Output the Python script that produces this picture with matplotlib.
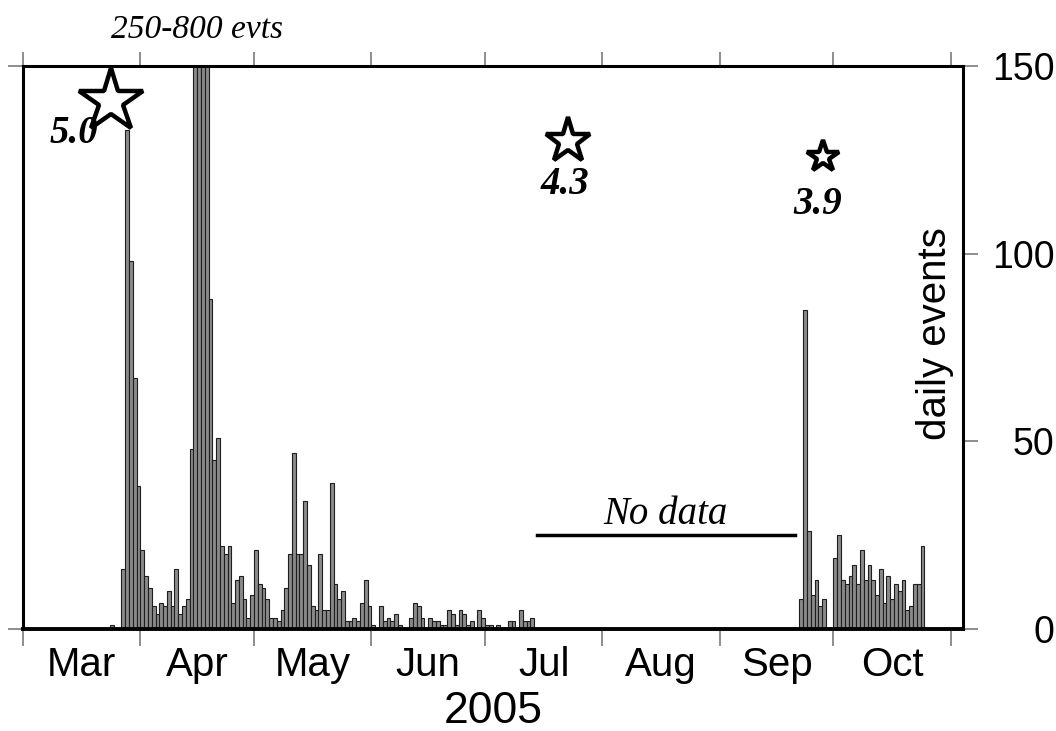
import matplotlib
matplotlib.use("Agg")
import matplotlib.pyplot as plt

plt.rcParams['font.family'] = ['Liberation Sans', 'DejaVu Sans']

# ---------------- data (days counted from 1 March 2005) ----------------
month_starts = [0, 31, 61, 92, 122, 153, 184, 214, 245]
month_names = ['Mar', 'Apr', 'May', 'Jun', 'Jul', 'Aug', 'Sep', 'Oct']

early_day = [23]
early_count = [1]

spring_start = 26
spring_counts = [16, 133, 98, 67, 38, 21, 14, 11, 6, 4, 7, 6, 10, 6, 16, 4, 6, 8,
                 48, 250, 800, 600, 300, 88, 45, 51, 22, 20, 22, 7, 13, 14, 8, 3,
                 9, 21, 12, 11, 8, 3, 3, 2, 5, 11, 20, 47, 20, 20, 34, 17, 6, 5,
                 20, 5, 5, 39, 12, 8, 10, 2, 2, 3, 2, 7, 13, 6, 1, 0, 6, 2, 3, 2,
                 4, 1, 0, 0, 3, 7, 6, 3, 0, 3, 2, 2, 1, 1, 5, 4, 1, 5, 4, 1, 2, 0,
                 5, 3, 1, 1, 0, 1, 0, 0, 2, 2, 0, 5, 2, 2, 3]

autumn_start = 205
autumn_counts = [8, 85, 26, 9, 13, 6, 8, 0, 0, 19, 25, 13, 12, 14, 17, 12, 21, 13,
                 17, 13, 9, 16, 7, 14, 8, 12, 10, 13, 5, 6, 12, 12, 22]

quake_day = [23.2, 143.9, 211.2]
quake_level = [140.7, 130.0, 125.8]
quake_mag = ['5.0', '4.3', '3.9']
quake_label_day = [13.5, 143.1, 209.9]
quake_label_level = [132.0, 118.3, 113.0]
quake_star_size = [48, 34, 24]

gap_span = [135.7, 203.8]
gap_level = 25

# ---------------- figure ----------------
W, H = 1056, 731
fig = plt.figure(figsize=(W / 100, H / 100), dpi=100)
ax = fig.add_axes([23 / W, (H - 629) / H, 940 / W, 563 / H])

bar_kw = dict(width=1, align='edge', color='#8a8a8a', edgecolor='#1e1e1e',
              linewidth=0.8, zorder=2)
ax.bar(early_day, early_count, **bar_kw)
ax.bar([spring_start + i for i in range(len(spring_counts))], spring_counts, **bar_kw)
ax.bar([autumn_start + i for i in range(len(autumn_counts))], autumn_counts, **bar_kw)

ax.set_xlim(0, 248.2)
ax.set_ylim(0, 150)

for s in ax.spines.values():
    s.set_linewidth(2.2)
    s.set_color('black')
    s.set_zorder(4)
ax.spines['bottom'].set_linewidth(2.8)

# x ticks: month boundaries (major) and centred month names (minor)
ax.set_xticks(month_starts)
ax.set_xticklabels([])
mids = [(month_starts[i] + month_starts[i + 1]) / 2 for i in range(len(month_names))]
ax.set_xticks(mids, minor=True)
ax.set_xticklabels(month_names, minor=True)
ax.tick_params(axis='x', which='major', direction='out', length=12, width=1.2,
               color='#7a7a7a', bottom=True, top=False, labelbottom=False)
ax.tick_params(axis='x', which='minor', length=0, pad=12, labelsize=29)
ax.set_xlabel('2005', fontsize=32, labelpad=5)

sec = ax.secondary_xaxis('top')
sec.set_xticks(month_starts)
sec.set_xticklabels([])
sec.tick_params(axis='x', direction='out', length=10, width=1.2, color='#7a7a7a')
for s in sec.spines.values():
    s.set_visible(False)

# y ticks on the right (labelled), short left ticks only at the ends
ax.set_yticks([0, 50, 100, 150])
ax.tick_params(axis='y', direction='out', length=11, width=1.2, color='#7a7a7a',
               left=False, right=True, labelleft=False, labelright=True,
               labelsize=27, pad=55)
for t in ax.yaxis.get_major_ticks():
    t.label2.set_horizontalalignment('right')

secy = ax.secondary_yaxis('left')
secy.set_yticks([0, 150])
secy.set_yticklabels([])
secy.tick_params(axis='y', direction='out', length=11, width=1.2, color='#7a7a7a')
for s in secy.spines.values():
    s.set_visible(False)

ax.text(0.970, 0.524, 'daily events', transform=ax.transAxes, rotation=90,
        ha='center', va='center', fontsize=29)

# earthquake stars
serif = ['Liberation Serif', 'DejaVu Serif']
for d, lv, ms in zip(quake_day, quake_level, quake_star_size):
    ax.plot([d], [lv], marker='*', ms=ms, mfc='white', mec='black', mew=3.2,
            linestyle='none', zorder=5, clip_on=False)
for d, lv, m in zip(quake_label_day, quake_label_level, quake_mag):
    ax.text(d, lv, m, ha='center', va='center', fontsize=28, fontweight='bold',
            fontstyle='italic', family=serif, zorder=6)

ax.text(46, 159.6, '250-800 evts', ha='center', va='center', fontsize=24,
        fontstyle='italic', family=serif, clip_on=False)

ax.plot(gap_span, [gap_level, gap_level], color='black', lw=2.5, zorder=3)
ax.text(sum(gap_span) / 2, 30.4, 'No data', ha='center', va='center', fontsize=28,
        fontstyle='italic', family=serif)

fig.savefig('out.png', dpi=100)
